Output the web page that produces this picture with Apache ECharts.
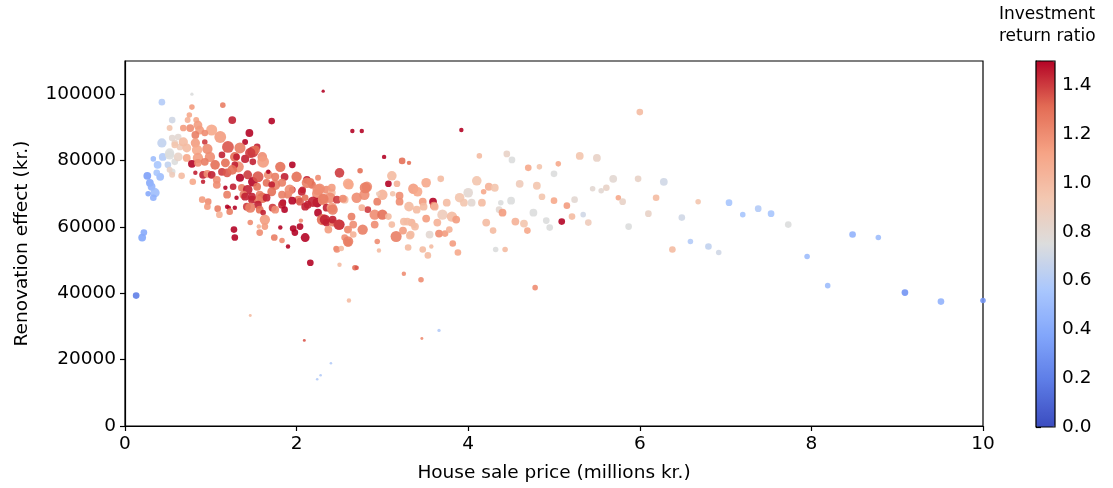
<!DOCTYPE html>
<html><head><meta charset="utf-8">
<script src="https://cdn.jsdelivr.net/npm/echarts@6/dist/echarts.min.js"></script>
<style>html,body{margin:0;padding:0;background:#fff}#c{width:1113px;height:488px}</style>
</head><body><div id="c"></div>
<script>
// Each point: [house sale price (mill. kr.), renovation effect (kr.), investment return ratio, living area (m²)]
const blueCluster = [
[0.13,39300,0.2,90],[0.20,56800,0.38,105],[0.22,58300,0.4,90],[0.26,75400,0.35,105],[0.29,73300,0.4,105],
[0.31,72100,0.45,105],[0.35,70300,0.5,125],[0.27,70000,0.4,75],[0.33,68800,0.45,90],[0.33,80500,0.5,75],
[0.43,97600,0.6,90],[0.38,78700,0.55,105],[0.41,75100,0.5,105],[0.37,76300,0.55,90],[0.44,81100,0.6,105],
[0.43,85300,0.65,125],[0.50,78700,0.65,90],[0.58,79600,0.75,90],[0.52,82300,0.75,125],[0.55,76600,0.75,90],
[0.55,92200,0.7,90],[0.78,100000,0.75,45],[0.52,81700,0.75,125],[0.62,87100,0.8,90],[0.55,86800,0.8,90],
[0.58,85300,0.85,90],[0.52,89800,0.95,80],[0.64,84100,0.9,90],[0.62,81100,0.85,120],[0.52,77200,0.85,80],
[0.55,75700,0.9,80],[0.66,75400,1.0,90],[0.58,84700,0.95,90]
];
const denseCore = [
[0.73,92200,1.05,80],[0.83,92200,1.1,80],[0.75,93700,1.1,75],[0.78,96100,1.15,75],[1.14,96700,1.25,75],
[1.25,92200,1.45,105],[1.71,91900,1.5,90],[2.31,100900,1.5,45],[2.65,88900,1.5,60],[2.76,88900,1.5,60],
[1.45,88300,1.5,105],[1.01,89200,1.1,150],[1.11,87100,1.15,160],[0.87,89200,1.15,120],[0.76,89800,1.2,105],
[0.68,89800,1.15,90],[0.85,90700,1.15,120],[0.93,88300,1.2,90],[0.82,87700,1.25,105],[0.93,85600,1.4,75],
[0.68,85600,1.0,125],[0.72,83800,1.0,120],[0.82,85300,1.15,125],[0.84,83200,1.1,140],[0.96,83500,1.2,140],
[1.2,84100,1.35,160],[1.4,85600,1.5,80],[1.54,84100,1.45,90],[1.49,82600,1.4,150],[1.34,83800,1.25,150],
[1.52,83200,1.3,120],[0.72,80800,1.1,105],[0.85,80800,1.15,140],[0.99,81100,1.2,140],[1.13,81700,1.45,90],
[1.28,81100,1.3,130],[1.40,80500,1.45,110],[1.60,81100,1.2,130],[1.30,81100,1.45,90],[1.46,82300,1.4,140],
[0.78,79000,1.5,105],[0.85,79300,1.2,105],[0.93,79600,1.25,105],[1.05,78700,1.3,130],[1.17,79300,1.3,120],
[1.32,78100,1.2,150],[1.49,79600,1.45,90],[1.61,79600,1.15,160],[1.81,78100,1.3,140],[1.95,78700,1.5,90],
[1.28,78700,1.45,90],[0.82,76300,1.45,60],[0.91,75700,1.45,105],[0.96,76000,1.2,105],[1.01,75700,1.45,105],
[1.07,74200,1.2,105],[1.13,76600,1.4,105],[1.19,76300,1.35,120],[1.25,77200,1.3,130],[1.34,74800,1.5,110],
[1.43,75700,1.4,120],[1.49,73600,1.5,130],[1.55,75100,1.35,150],[1.67,75700,1.2,120],[1.75,72700,1.25,140],
[1.86,75100,1.45,105],[2.0,75100,1.3,140],[2.12,74200,1.45,105],[2.18,72700,1.3,105],[2.5,76300,1.4,130],
[2.61,72700,1.1,130],[1.67,76600,1.5,60],[1.65,73300,1.3,105],[1.75,75100,1.25,110],[1.71,72700,1.45,90],
[1.83,73300,1.25,110],[0.79,73600,1.1,90],[0.91,73600,1.45,60],[1.17,71800,1.5,60],[1.26,72100,1.45,90],
[1.36,71800,1.25,100],[1.43,71200,1.45,130],[1.54,72100,1.3,105],[1.57,69700,1.25,105],[2.16,73600,1.3,105],
[2.25,74800,1.2,80],[1.95,71200,1.45,90],[2.07,71200,1.45,90],[1.9,69700,1.25,105],[0.9,68200,1.15,90],
[0.97,67600,1.2,90],[1.07,72700,1.2,105],[1.19,69700,1.25,105],[1.38,69700,1.25,105],[1.48,68200,1.45,105],
[1.6,68800,1.3,140],[1.71,70600,1.3,120],[1.83,69700,1.25,105],[1.92,71200,1.2,140],[2.06,70600,1.45,105],
[2.25,71200,1.2,150],[2.35,71200,1.2,110],[2.41,70300,1.0,105],[1.55,68200,1.25,105],[1.65,68800,1.45,105],
[1.84,67300,1.5,90],[2.02,68200,1.25,105],[2.24,70000,1.2,140],[2.39,68800,1.2,140],[2.47,68200,1.4,105],
[1.19,66100,1.5,60],[1.3,68800,1.5,60],[0.96,66100,1.15,90],[1.08,65500,1.25,90],[1.1,63700,1.05,90],
[1.21,65800,1.5,60],[1.22,64600,1.25,90],[1.4,69100,1.45,105],[1.48,69100,1.45,105],[1.42,66100,1.4,105],
[1.55,66700,1.45,105],[1.57,65200,1.3,105],[1.61,64300,1.45,75],[1.63,62200,1.15,140],[1.72,65800,1.4,105],
[1.83,66700,1.45,105],[1.86,65200,1.5,90],[1.95,67900,1.5,105],[2.04,67600,1.35,105],[2.1,68800,1.3,90],
[2.13,66700,1.45,105],[2.24,67300,1.5,130],[2.25,64300,1.5,105],[2.31,68200,1.2,150],[2.35,65800,1.45,105],
[2.41,65800,1.15,140],[2.3,62200,1.3,150],[2.35,61300,1.45,105],[2.42,61300,1.25,105],[2.5,60700,1.45,140],
[2.37,59200,1.15,105],[2.56,68200,1.0,105],[2.59,59200,1.0,90],[2.56,56800,1.2,90],[2.6,55300,1.25,105],
[2.47,53200,1.2,90],[2.52,53500,1.0,75],[2.5,48600,1.0,60],[1.27,59200,1.5,90],[1.56,60100,1.05,60],
[1.57,58300,1.2,90],[1.74,56800,1.25,90],[1.83,55900,1.2,75],[1.81,59800,1.5,60],[1.9,54100,1.5,60],
[1.96,59500,1.5,90],[1.98,58300,1.5,90],[2.04,60100,1.5,90],[2.05,61900,1.2,60],[2.1,56800,1.5,120],
[2.16,49200,1.5,90],[2.68,47700,1.3,75],[1.28,65800,1.5,60],[1.46,65800,1.25,140],[1.75,65200,1.2,105],
[1.46,61300,1.2,75],[1.63,60100,1.15,90],[2.6,59200,1.2,105],[1.28,56800,1.5,90],[2.12,73300,1.25,140],
[2.27,71500,1.2,140],[2.41,71800,1.15,105],[2.82,72100,1.2,140],[2.1,66100,1.45,105],[2.19,67600,1.45,140],
[2.31,68500,1.25,140],[2.54,68500,1.2,105],[2.7,68800,1.2,140],[2.79,69700,1.2,140],[2.94,67600,1.25,105],
[3.0,69700,1.05,140],[3.12,70000,0.95,75],[3.2,67600,1.2,105],[2.42,65200,1.25,140],[2.64,63100,1.25,105],
[2.83,65200,1.4,90],[2.76,65800,1.05,90],[2.91,63700,1.2,140],[3.0,63700,1.3,140],[3.07,63100,1.0,90],
[2.33,62200,1.45,140],[2.42,62200,1.45,105],[2.49,60700,1.4,140],[2.66,60700,1.2,105],[2.77,59200,1.25,140],
[2.91,60700,1.2,105],[2.6,55600,1.25,140],[2.66,57700,1.05,90],[2.46,53500,1.2,75],[2.7,47700,1.35,60],
[2.74,76900,1.3,75]
];
const middleBand = [
[3.02,81100,1.5,60],[3.23,79900,1.3,90],[3.31,79300,1.3,60],[4.13,81400,1.0,75],[4.45,82000,0.85,90],
[4.51,80200,0.75,90],[4.7,77800,1.1,90],[4.83,78100,0.95,75],[5.05,79000,1.1,75],[5.0,76000,0.75,90],
[3.11,75400,1.0,130],[2.6,73000,1.1,140],[2.8,71800,1.25,150],[3.07,73000,1.5,90],[3.17,73000,1.05,90],
[3.36,71500,1.15,140],[3.51,73300,1.1,130],[3.68,74500,1.0,90],[3.41,70600,1.1,130],[4.1,73900,0.95,130],
[4.24,72100,1.05,105],[4.31,71800,0.95,105],[4.6,73000,0.9,105],[4.8,72400,0.95,105],[4.0,70300,0.8,130],
[3.9,68800,0.95,130],[3.95,67300,0.95,105],[4.04,67300,0.8,105],[4.16,67300,1.0,105],[4.18,70600,1.1,75],
[4.38,67300,0.75,75],[4.5,67900,0.75,105],[4.86,69100,0.95,90],[5.0,67900,1.1,90],[4.36,65200,0.8,90],
[4.4,64300,1.15,105],[4.76,64300,0.75,105],[4.91,61900,0.75,90],[4.95,59800,0.75,90],[5.09,61600,1.5,90],
[4.55,61600,1.05,105],[4.65,61000,0.95,105],[4.69,58900,1.1,90],[4.29,58900,1.0,90],[4.21,61300,1.0,105],
[4.32,53200,0.75,75],[4.43,53200,1.0,75],[3.59,67600,1.5,105],[3.6,66400,1.2,105],[3.75,67300,1.0,105],
[3.7,63700,0.9,140],[3.81,63100,1.0,140],[3.86,62200,1.15,105],[3.64,61300,1.05,105],[3.51,62500,1.15,105],
[3.34,61300,1.05,105],[3.25,61600,1.0,105],[3.37,60400,1.0,75],[3.55,57700,0.8,105],[3.66,58000,1.2,105],
[3.73,58000,1.15,90],[3.78,59200,1.05,90],[3.16,57100,1.25,150],[3.24,58900,1.15,105],[3.33,57700,1.0,105],
[2.94,55600,1.2,75],[2.96,52900,1.0,60],[3.3,53800,1.0,90],[3.47,53200,1.0,90],[3.57,54100,1.0,60],
[3.53,51400,1.0,90],[3.82,55000,1.15,90],[3.88,52300,1.1,90],[2.95,70000,0.9,60],[3.2,69400,1.2,105],
[3.31,66100,1.0,130],[3.4,65200,1.0,105],[3.47,67600,1.15,105],[3.61,66100,1.05,105],[3.48,66100,1.0,105],
[3.29,61600,1.0,105],[3.38,60100,1.0,105],[3.11,60700,1.0,90],[3.32,57400,1.0,105],[3.92,89200,1.5,60],
[3.45,44100,1.2,75],[3.25,45900,1.2,60],[4.78,41700,1.2,75]
];
const rightTail = [
[6.0,94600,1.0,90],[5.3,81400,0.95,105],[5.5,80800,0.85,105],[5.69,74500,0.8,105],[5.98,74500,0.85,90],
[6.28,73600,0.7,105],[5.45,71500,0.8,75],[5.55,70900,0.8,75],[5.61,71800,0.85,90],[5.75,68800,1.1,75],
[5.8,67600,0.85,90],[6.19,68800,1.0,90],[5.24,68200,0.8,90],[5.15,66400,1.15,90],[5.21,63100,1.0,90],
[5.34,63700,0.7,75],[5.4,61300,0.9,90],[5.87,60100,0.75,90],[6.1,64000,0.85,90],[6.49,62800,0.7,90],
[6.68,67600,0.95,75],[7.04,67300,0.55,90],[7.2,63700,0.55,75],[7.38,65500,0.6,90],[7.53,64000,0.55,90],
[6.59,55600,0.6,75],[6.8,54100,0.65,90],[6.92,52300,0.7,75],[6.38,53200,1.0,90],[7.73,60700,0.75,90],
[8.48,57700,0.45,90],[8.78,56800,0.5,75],[7.95,51100,0.5,75],[8.19,42300,0.5,75],[9.09,40200,0.3,90],
[9.51,37500,0.45,90],[10.0,37800,0.3,75]
];
const lowOutliers = [
[1.46,33300,1.0,40],[2.61,37800,1.0,60],[2.09,25800,1.35,40],[2.4,18900,0.6,35],[2.28,15300,0.6,35],
[2.24,14100,0.6,35],[3.46,26400,1.2,40],[3.66,28800,0.6,45]
];
const xTicks = [0, 2, 4, 6, 8, 10];
const yTicks = [0, 20000, 40000, 60000, 80000, 100000];
const cbarTicks = [0.0, 0.2, 0.4, 0.6, 0.8, 1.0, 1.2, 1.4];

const allPoints = [].concat(blueCluster, denseCore, middleBand, rightTail, lowOutliers);
const FONT = 'DejaVu Sans';
const FS = 18.5;
const coolwarm = ['#3b4cc0','#5d7ce6','#82a6fb','#aac7fd','#dcdddd','#f3c7b1','#f6a385','#e36c55','#b40426'];

const chart = echarts.init(document.getElementById('c'), null, {renderer: 'canvas'});
chart.setOption({
  animation: false,
  backgroundColor: '#fff',
  textStyle: {fontFamily: FONT},
  grid: [
    {left: 125, right: 130, top: 61, bottom: 61, show: true, borderColor: '#000', borderWidth: 1.2, backgroundColor: 'transparent'},
    {left: 1036, width: 19, top: 61, bottom: 61, show: true, borderColor: '#000', borderWidth: 1.2, backgroundColor: 'transparent', z: 10}
  ],
  xAxis: [
    {type: 'value', gridIndex: 0, min: xTicks[0], max: xTicks[xTicks.length-1], interval: 2,
     name: 'House sale price (millions kr.)', nameLocation: 'middle', nameGap: 38,
     nameTextStyle: {fontSize: FS, color: '#000', fontFamily: FONT},
     axisLine: {lineStyle: {color: '#000', width: 1.2}}, axisTick: {show: true, length: 5, lineStyle: {color: '#000', width: 1.2}},
     axisLabel: {fontSize: FS, color: '#000', margin: 9, fontFamily: FONT}, splitLine: {show: false}},
    {type: 'value', gridIndex: 1, min: 0, max: 1, show: false}
  ],
  yAxis: [
    {type: 'value', gridIndex: 0, min: 0, max: 110000, interval: 20000,
     name: 'Renovation effect (kr.)', nameLocation: 'middle', nameGap: 93, nameRotate: 90,
     nameTextStyle: {fontSize: FS, color: '#000', fontFamily: FONT},
     axisLine: {show: true, lineStyle: {color: '#000', width: 1.2}}, axisTick: {show: true, length: 5, lineStyle: {color: '#000', width: 1.2}},
     axisLabel: {fontSize: FS, color: '#000', margin: 9, fontFamily: FONT, showMaxLabel: false,
       formatter: v => (yTicks.indexOf(v) >= 0 ? String(v) : '')}, splitLine: {show: false}},
    {type: 'value', gridIndex: 1, min: 0, max: 1.5, interval: 0.2, position: 'right',
     axisLine: {show: true, lineStyle: {color: '#000', width: 1.2}}, axisTick: {show: true, length: 5, lineStyle: {color: '#000', width: 1.2}},
     axisLabel: {fontSize: FS, color: '#000', margin: 7, fontFamily: FONT,
       formatter: v => (cbarTicks.some(t => Math.abs(t - v) < 1e-6) ? v.toFixed(1) : '')}, splitLine: {show: false}}
  ],
  visualMap: {
    type: 'continuous', seriesIndex: 0, dimension: 2, min: 0, max: 1.5,
    left: 1036, top: 61, itemWidth: 19, itemHeight: 366, padding: 0,
    calculable: false, text: null, showLabel: false, realtime: false,
    inRange: {color: coolwarm}
  },
  graphic: [
    {type: 'text', x: 999, y: 4, style: {text: 'Investment\nreturn ratio', font: '17px "DejaVu Sans"', fill: '#000', align: 'left', verticalAlign: 'top', lineHeight: 22}}
  ],
  series: [{
    type: 'scatter', xAxisIndex: 0, yAxisIndex: 0,
    data: allPoints,
    symbolSize: v => v[3] / 13.5,
    itemStyle: {opacity: 0.9},
    clip: true
  }]
});
</script></body></html>
